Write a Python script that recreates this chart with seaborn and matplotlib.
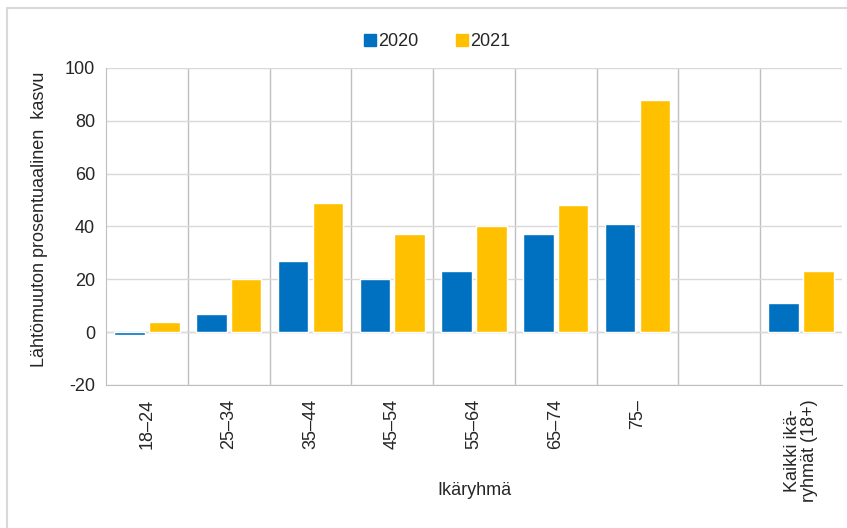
import numpy as np
import pandas as pd
import matplotlib
matplotlib.use("Agg")
import matplotlib.pyplot as plt
from matplotlib.lines import Line2D
import seaborn as sns

groups = ["18–24", "25–34", "35–44", "45–54", "55–64", "65–74", "75–", " ",
          "Kaikki ikä-\nryhmät (18+)"]
v2020 = [-1, 7, 27, 20, 23, 37, 41, np.nan, 11]
v2021 = [4, 20, 49, 37, 40, 48, 88, np.nan, 23]
years = ["2020", "2021"]
colors = ["#0070C0", "#FFC000"]

df = pd.DataFrame({
    "group": groups * 2,
    "year": [years[0]] * len(groups) + [years[1]] * len(groups),
    "value": v2020 + v2021,
})

sns.set_style("white")
plt.rcParams["font.family"] = ["Liberation Sans", "DejaVu Sans"]
plt.rcParams["axes.unicode_minus"] = False

fig = plt.figure(figsize=(8.47, 5.28), dpi=100)
ax = fig.add_axes([106 / 847, 1 - 385 / 528, (842 - 106) / 847, (385 - 68) / 528])

sns.barplot(data=df, x="group", y="value", hue="year", order=groups,
            hue_order=years, palette=colors, width=0.85, gap=0.12,
            saturation=1, errorbar=None, legend=False, ax=ax)

ax.set_ylim(-20, 100)
ax.set_yticks(range(-20, 101, 20))
ax.set_xlim(-0.5, len(groups) - 0.5)
ax.set_xticks(range(len(groups)))
ax.set_xticklabels(groups, rotation=90, fontsize=13, ma="center", linespacing=1.0)
ax.tick_params(axis="y", labelsize=13, length=0, pad=8)
ax.tick_params(axis="x", length=0, pad=10)

ax.set_xticks(np.arange(0.5, len(groups) - 0.5, 1), minor=True)
ax.grid(axis="y", color="#D9D9D9", lw=1)
ax.grid(axis="x", which="minor", color="#BFBFBF", lw=1)
ax.set_axisbelow(True)
for s in ["left", "bottom"]:
    ax.spines[s].set_color("#BFBFBF")
for s in ["top", "right"]:
    ax.spines[s].set_visible(False)
ax.axhline(0, color="#D9D9D9", lw=1, zorder=0.5)

ax.set_xlabel("Ikäryhmä", fontsize=13)
ax.xaxis.set_label_coords(0.5, -0.305)
ax.set_ylabel("Lähtömuuton prosentuaalinen  kasvu", fontsize=13)
ax.yaxis.set_label_coords(-0.079, 0.524)

handles = [Line2D([], [], marker="s", ls="", color=c, markersize=8) for c in colors]
fig.legend(handles, years, loc="center", bbox_to_anchor=(0.515, 1 - 42 / 528),
           ncol=2, frameon=False, fontsize=13, handletextpad=0.05,
           columnspacing=2.0, handlelength=0.8)

# outer frame (left and top edges visible)
fig.add_artist(Line2D([7 / 847, 7 / 847], [0, 1 - 8 / 528], color="#D9D9D9", lw=1.5))
fig.add_artist(Line2D([7 / 847, 1], [1 - 8 / 528, 1 - 8 / 528], color="#D9D9D9", lw=1.5))

fig.savefig("out.png", dpi=100)
